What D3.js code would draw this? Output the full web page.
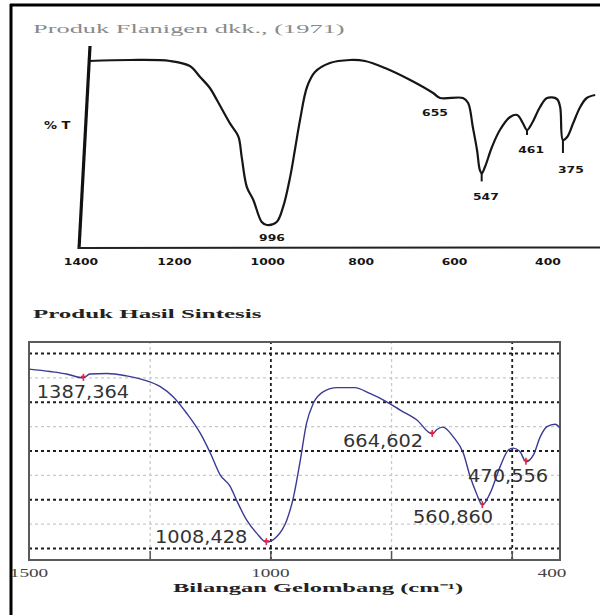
<!DOCTYPE html>
<html>
<head>
<meta charset="utf-8">
<script src="https://cdn.jsdelivr.net/npm/d3@7"></script>
<style>
  body { margin: 0; background: #fff; }
  svg { display: block; }
  .hand { font-family: 'DejaVu Sans', sans-serif; font-weight: bold; fill: #151515; }
  .serif { font-family: 'Liberation Serif', 'Times New Roman', serif; }
  .peak { font-family: 'DejaVu Sans', Verdana, sans-serif; fill: #333; }
</style>
</head>
<body>
<div id="chart"></div>
<script>
//// DATA
// top panel - scanned spectrum (Flanigen dkk., 1971)
const topTitle = 'Produk Flanigen dkk., (1971)';
const topTicks = [1400, 1200, 1000, 800, 600, 400];
const topWave = [1383, 1295, 1209, 1167, 1145, 1124, 1109, 1081, 1063, 1056, 1045, 1031, 1013, 1002,
                 981, 967, 952, 942, 931, 916, 899, 867, 824, 792, 749, 695, 646, 631, 582, 571,
                 561, 552, 546, 542, 535, 520, 503, 481, 466, 454, 445, 434, 417, 402, 381, 374,
                 368, 359, 346, 331, 317, 299];
const topTrans = [93.5, 94, 93.5, 91, 85.5, 80, 74, 62.3, 55.7, 45.7, 30.6, 24, 13, 11.5,
                  13, 20.7, 35.7, 49, 64, 80.5, 88, 92.5, 94, 93.5, 90, 84, 77.5, 75, 75, 72.5,
                  60.5, 49, 39, 37.3, 40.5, 50.5, 59, 65.5, 66.5, 62.5, 59, 62.5, 70.5, 75, 74.5, 70.5,
                  54, 55.5, 62.5, 70.5, 75, 76.5];
const topPeakLabels = ['996', '655', '547', '461', '375'];
const topLabelWave = [991, 642, 533, 436, 351];
const topLabelTrans = [3.5, 66, 24, 47.5, 37.5];
const topDipWave = [542, 445, 368];
const topDipTrans = [37.3, 59, 54];

// bottom panel - synthesis product
const botTitle = 'Produk Hasil Sintesis';
const botAxisTitle = 'Bilangan Gelombang (cm\u207B\u00B9)';
const botTickLabels = [1500, 1000, 400];
const botMinorTicks = [1250, 1000, 750, 500];
const botGridMajorX = [1000, 500];
const botGridMinorX = [1250, 750];
const botGridMajorY = [10, 20, 30, 40, 50];
const botGridMinorY = [15, 25, 35, 45];
const botWave = [1500, 1456, 1422, 1387.364, 1374, 1339, 1298, 1263, 1228, 1201, 1173, 1145, 1124, 1104,
                 1083, 1070, 1049, 1028, 1008.428, 987, 966, 952, 939, 925, 911, 890, 862, 825, 794,
                 759, 731, 697, 664.602, 655, 643, 621, 600, 586, 573, 560.860, 545, 524, 507, 497,
                 483, 470.556, 455, 441, 427, 410, 400];
const botTrans = [46.7, 46.2, 45.7, 44.9, 45.7, 45.8, 45.3, 44.5, 43.1, 41.0, 37.6, 33.5, 29.4, 25.0,
                  22.6, 19.8, 15.7, 13.0, 11.2, 12.3, 15.7, 20.5, 27.4, 35.6, 39.7, 42.1, 42.9, 42.9, 41.7,
                  40.0, 38.3, 36.3, 33.4, 34.3, 34.8, 32.8, 29.4, 24.6, 21.2, 18.8, 21.2, 26.7, 30.1, 30.5,
                  29.8, 27.7, 29.1, 32.8, 34.9, 35.4, 34.6];
const botPeakWave = [1387.364, 1008.428, 664.602, 560.860, 470.556];
const botPeakLabels = ['1387,364', '1008,428', '664,602', '560,860', '470,556'];
const botLabelWave = [1484, 1239, 849.5, 704.5, 590.5];
const botLabelTrans = [40.8, 11.0, 30.7, 15.1, 23.5];

//// SETUP
const W = 600, H = 615;
const svg = d3.select('#chart').append('svg').attr('width', W).attr('height', H);
svg.append('rect').attr('width', W).attr('height', H).attr('fill', '#fff');

// stretch a text element horizontally (source image is stretched)
function stretch(sel, k) {
  sel.each(function() {
    const w = this.getComputedTextLength();
    d3.select(this).attr('textLength', w * k).attr('lengthAdjust', 'spacingAndGlyphs');
  });
}

//// TOP PANEL
const xTop = d3.scaleLinear().domain([1400, 400]).range([81, 548]);
const yTop = d3.scaleLinear().domain([0, 100]).range([248, 48]);
const gTop = svg.append('g').classed('top-panel', true);

gTop.append('text').attr('class', 'serif').attr('x', 33).attr('y', 33)
    .attr('font-size', 12).attr('fill', '#8a8a8a').text(topTitle)
    .call(stretch, 2.2);

const topPts = topWave.map((w, i) => [xTop(w), yTop(topTrans[i])]);
gTop.append('path')
    .attr('d', d3.line().curve(d3.curveCatmullRom.alpha(0.5))(topPts))
    .attr('fill', 'none').attr('stroke', '#161616').attr('stroke-width', 2.2)
    .attr('stroke-linejoin', 'round');

// hand drawn axes
gTop.append('line').attr('x1', xTop(1400) + 9).attr('y1', yTop(101))
    .attr('x2', xTop(1400) - 2).attr('y2', yTop(-0.5))
    .attr('stroke', '#111').attr('stroke-width', 3.2);
gTop.append('line').attr('x1', xTop(1400) - 3).attr('y1', yTop(0))
    .attr('x2', W).attr('y2', yTop(0.3))
    .attr('stroke', '#222').attr('stroke-width', 2);

// small ticks under the dips
const dipTickLen = [8, 5, 13];
gTop.selectAll('.dip').data(topDipWave).enter().append('line').classed('dip', true)
    .attr('x1', d => xTop(d)).attr('x2', d => xTop(d))
    .attr('y1', (d, i) => yTop(topDipTrans[i]))
    .attr('y2', (d, i) => yTop(topDipTrans[i]) + dipTickLen[i])
    .attr('stroke', '#161616').attr('stroke-width', 2);

gTop.selectAll('.tick-lbl').data(topTicks).enter().append('text').classed('hand tick-lbl', true)
    .attr('x', d => xTop(d)).attr('y', 265).attr('text-anchor', 'middle')
    .attr('font-size', 9.5).text(d => d)
    .call(stretch, 1.3);

gTop.selectAll('.peak-lbl').data(topPeakLabels).enter().append('text').classed('hand peak-lbl', true)
    .attr('x', (d, i) => xTop(topLabelWave[i])).attr('y', (d, i) => yTop(topLabelTrans[i]))
    .attr('text-anchor', 'middle').attr('font-size', 9.5).text(d => d)
    .call(stretch, 1.3);

gTop.append('text').classed('hand', true).attr('x', 44).attr('y', 129)
    .attr('font-size', 10).text('% T').call(stretch, 1.3);

//// BOTTOM PANEL
const pLeft = 29, pRight = 560, pTop = 342, pBottom = 560;
const xBot = d3.scaleLinear().domain([1500, 400]).range([pLeft, pRight]);
const yBot = d3.scaleLinear().domain([7.54, 52.26]).range([pBottom, pTop]);
const gBot = svg.append('g').classed('bottom-panel', true);

gBot.append('text').attr('class', 'serif').attr('x', 33).attr('y', 318)
    .attr('font-size', 12).attr('font-weight', 'bold').attr('fill', '#222').text(botTitle)
    .call(stretch, 2.08);

// grid
function grid(axis, vals, size, color, width) {
  return g => {
    g.call(axis.tickValues(vals).tickSize(size).tickFormat(''));
    g.select('.domain').remove();
    g.selectAll('.tick line').attr('stroke', color).attr('stroke-width', width)
     .attr('stroke-dasharray', '3,3');
  };
}
gBot.append('g').attr('transform', `translate(${pLeft},0)`)
    .call(grid(d3.axisLeft(yBot), botGridMinorY, -(pRight - pLeft), '#c9c9c9', 1.3));
gBot.append('g').attr('transform', `translate(0,${pBottom})`)
    .call(grid(d3.axisBottom(xBot), botGridMinorX, -(pBottom - pTop), '#c9c9c9', 1.3));
gBot.append('g').attr('transform', `translate(${pLeft},0)`)
    .call(grid(d3.axisLeft(yBot), botGridMajorY, -(pRight - pLeft), '#1e1e1e', 1.8));
gBot.append('g').attr('transform', `translate(0,${pBottom})`)
    .call(grid(d3.axisBottom(xBot), botGridMajorX, -(pBottom - pTop), '#1e1e1e', 1.8));

// bottom ticks
const tickAxis = gBot.append('g').attr('transform', `translate(0,${pBottom})`)
    .call(d3.axisBottom(xBot).tickValues(botMinorTicks).tickSize(-9).tickFormat(''));
tickAxis.select('.domain').remove();
tickAxis.selectAll('.tick line').attr('stroke', '#555').attr('stroke-width', 1.5);

// frame
gBot.append('rect').attr('x', pLeft).attr('y', pTop)
    .attr('width', pRight - pLeft).attr('height', pBottom - pTop)
    .attr('fill', 'none').attr('stroke', '#5a5a5a').attr('stroke-width', 2);

// spectrum
const botPts = botWave.map((w, i) => [xBot(w), yBot(botTrans[i])]);
gBot.append('path')
    .attr('d', d3.line().curve(d3.curveMonotoneX)(botPts))
    .attr('fill', 'none').attr('stroke', '#3a3a94').attr('stroke-width', 1.4);

// peak markers
const markers = gBot.selectAll('.mark').data(botPeakWave).enter().append('g').classed('mark', true)
    .attr('transform', d => `translate(${xBot(d)},${yBot(botTrans[botWave.indexOf(d)])})`);
markers.append('line').attr('x1', 0).attr('x2', 0).attr('y1', -4).attr('y2', 3)
    .attr('stroke', '#e3264b').attr('stroke-width', 1.6);
markers.append('line').attr('x1', -2.5).attr('x2', 2.5).attr('y1', -1.5).attr('y2', -1.5)
    .attr('stroke', '#e3264b').attr('stroke-width', 1.3);

gBot.selectAll('.peak').data(botPeakLabels).enter().append('text').classed('peak', true)
    .attr('x', (d, i) => xBot(botLabelWave[i])).attr('y', (d, i) => yBot(botLabelTrans[i]))
    .attr('font-size', 17).text(d => d)
    .call(stretch, 1.14);

// tick labels + axis title
gBot.selectAll('.xlbl').data(botTickLabels).enter().append('text').attr('class', 'serif xlbl')
    .attr('x', d => xBot(d)).attr('dx', (d, i) => i === botTickLabels.length - 1 ? -8 : 0)
    .attr('y', 577).attr('text-anchor', 'middle').attr('font-size', 12).attr('fill', '#444')
    .text(d => d).call(stretch, 1.6);

gBot.append('text').attr('class', 'serif').attr('x', 173).attr('y', 592)
    .attr('font-size', 12).attr('font-weight', 'bold').attr('fill', '#222').text(botAxisTitle)
    .call(stretch, 2.04);

//// OUTER FRAME
svg.append('line').attr('x1', 10).attr('x2', W).attr('y1', 5).attr('y2', 5)
   .attr('stroke', '#000').attr('stroke-width', 3);
svg.append('line').attr('x1', 11).attr('x2', 11).attr('y1', 4).attr('y2', H)
   .attr('stroke', '#000').attr('stroke-width', 3);
</script>
</body>
</html>
